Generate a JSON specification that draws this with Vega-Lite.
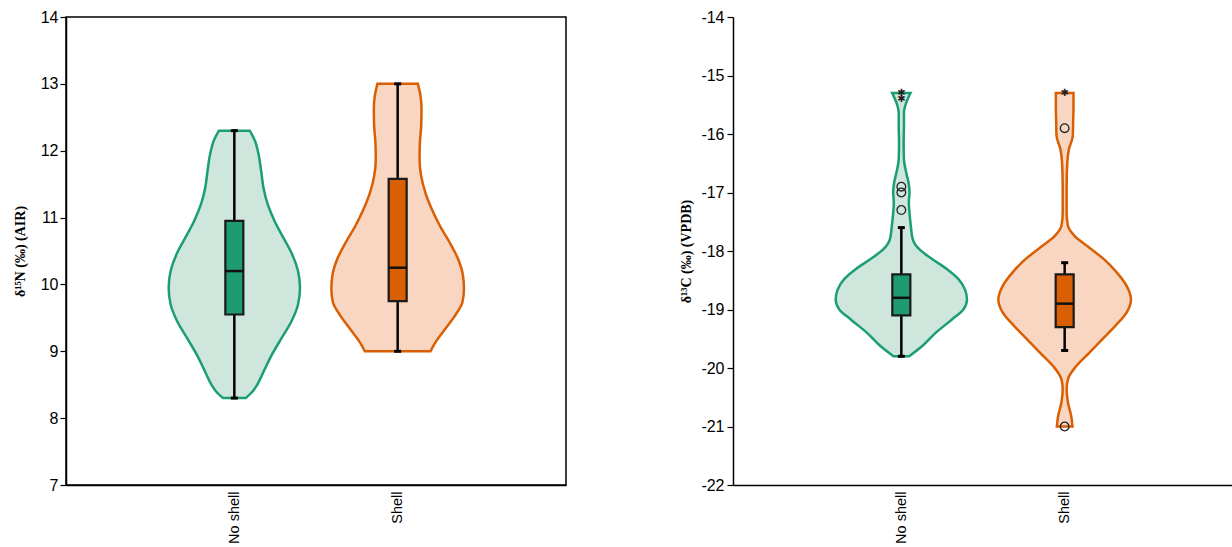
{
  "$schema": "https://vega.github.io/schema/vega-lite/v6.json",
  "padding": {"left": 12, "top": 8, "right": 0, "bottom": 0},
  "background": "white",
  "config": {
    "font": "Liberation Sans",
    "view": {"stroke": null},
    "axis": {
      "labelFont": "Liberation Sans", "labelFontSize": 16, "labelColor": "black",
      "domainColor": "black", "tickColor": "black", "grid": false,
      "titleFont": "Liberation Serif", "titleFontWeight": "bold", "titleFontSize": 14, "titleColor": "black"
    }
  },
  "datasets": {
    "violinN": [
      {"g": "No shell", "y": 12.3, "lo": 0.906, "hi": 1.094},
      {"g": "No shell", "y": 12.15, "lo": 0.874, "hi": 1.126},
      {"g": "No shell", "y": 11.95, "lo": 0.852, "hi": 1.148},
      {"g": "No shell", "y": 11.7, "lo": 0.836, "hi": 1.164},
      {"g": "No shell", "y": 11.45, "lo": 0.822, "hi": 1.178},
      {"g": "No shell", "y": 11.2, "lo": 0.796, "hi": 1.204},
      {"g": "No shell", "y": 10.95, "lo": 0.754, "hi": 1.246},
      {"g": "No shell", "y": 10.7, "lo": 0.7, "hi": 1.3},
      {"g": "No shell", "y": 10.45, "lo": 0.646, "hi": 1.354},
      {"g": "No shell", "y": 10.2, "lo": 0.61, "hi": 1.39},
      {"g": "No shell", "y": 9.95, "lo": 0.598, "hi": 1.402},
      {"g": "No shell", "y": 9.7, "lo": 0.61, "hi": 1.39},
      {"g": "No shell", "y": 9.45, "lo": 0.65, "hi": 1.35},
      {"g": "No shell", "y": 9.2, "lo": 0.71, "hi": 1.29},
      {"g": "No shell", "y": 8.95, "lo": 0.77, "hi": 1.23},
      {"g": "No shell", "y": 8.7, "lo": 0.82, "hi": 1.18},
      {"g": "No shell", "y": 8.5, "lo": 0.86, "hi": 1.14},
      {"g": "No shell", "y": 8.38, "lo": 0.895, "hi": 1.105},
      {"g": "No shell", "y": 8.3, "lo": 0.931, "hi": 1.069},
      {"g": "Shell", "y": 13.0, "lo": 1.876, "hi": 2.124},
      {"g": "Shell", "y": 12.82, "lo": 1.86, "hi": 2.14},
      {"g": "Shell", "y": 12.62, "lo": 1.854, "hi": 2.146},
      {"g": "Shell", "y": 12.37, "lo": 1.856, "hi": 2.144},
      {"g": "Shell", "y": 12.12, "lo": 1.864, "hi": 2.136},
      {"g": "Shell", "y": 11.87, "lo": 1.866, "hi": 2.134},
      {"g": "Shell", "y": 11.62, "lo": 1.856, "hi": 2.144},
      {"g": "Shell", "y": 11.37, "lo": 1.83, "hi": 2.17},
      {"g": "Shell", "y": 11.12, "lo": 1.79, "hi": 2.21},
      {"g": "Shell", "y": 10.87, "lo": 1.74, "hi": 2.26},
      {"g": "Shell", "y": 10.62, "lo": 1.68, "hi": 2.32},
      {"g": "Shell", "y": 10.38, "lo": 1.63, "hi": 2.37},
      {"g": "Shell", "y": 10.13, "lo": 1.6, "hi": 2.4},
      {"g": "Shell", "y": 9.93, "lo": 1.594, "hi": 2.406},
      {"g": "Shell", "y": 9.73, "lo": 1.604, "hi": 2.396},
      {"g": "Shell", "y": 9.53, "lo": 1.65, "hi": 2.35},
      {"g": "Shell", "y": 9.33, "lo": 1.71, "hi": 2.29},
      {"g": "Shell", "y": 9.13, "lo": 1.77, "hi": 2.23},
      {"g": "Shell", "y": 9.0, "lo": 1.799, "hi": 2.201}
    ],
    "violinC": [
      {"g": "No shell", "y": -15.3, "lo": 0.944, "hi": 1.056},
      {"g": "No shell", "y": -15.465, "lo": 0.97, "hi": 1.03},
      {"g": "No shell", "y": -15.64, "lo": 0.984, "hi": 1.016},
      {"g": "No shell", "y": -15.86, "lo": 0.984, "hi": 1.016},
      {"g": "No shell", "y": -16.15, "lo": 0.986, "hi": 1.014},
      {"g": "No shell", "y": -16.43, "lo": 0.984, "hi": 1.016},
      {"g": "No shell", "y": -16.66, "lo": 0.97, "hi": 1.03},
      {"g": "No shell", "y": -16.83, "lo": 0.956, "hi": 1.044},
      {"g": "No shell", "y": -17.0, "lo": 0.95, "hi": 1.05},
      {"g": "No shell", "y": -17.17, "lo": 0.954, "hi": 1.046},
      {"g": "No shell", "y": -17.35, "lo": 0.95, "hi": 1.05},
      {"g": "No shell", "y": -17.57, "lo": 0.942, "hi": 1.058},
      {"g": "No shell", "y": -17.8, "lo": 0.93, "hi": 1.07},
      {"g": "No shell", "y": -17.97, "lo": 0.89, "hi": 1.11},
      {"g": "No shell", "y": -18.14, "lo": 0.81, "hi": 1.19},
      {"g": "No shell", "y": -18.31, "lo": 0.72, "hi": 1.28},
      {"g": "No shell", "y": -18.48, "lo": 0.65, "hi": 1.35},
      {"g": "No shell", "y": -18.66, "lo": 0.61, "hi": 1.39},
      {"g": "No shell", "y": -18.83, "lo": 0.598, "hi": 1.402},
      {"g": "No shell", "y": -19.0, "lo": 0.62, "hi": 1.38},
      {"g": "No shell", "y": -19.17, "lo": 0.69, "hi": 1.31},
      {"g": "No shell", "y": -19.4, "lo": 0.79, "hi": 1.21},
      {"g": "No shell", "y": -19.62, "lo": 0.87, "hi": 1.13},
      {"g": "No shell", "y": -19.8, "lo": 0.952, "hi": 1.048},
      {"g": "Shell", "y": -15.3, "lo": 1.946, "hi": 2.054},
      {"g": "Shell", "y": -15.52, "lo": 1.946, "hi": 2.054},
      {"g": "Shell", "y": -15.8, "lo": 1.948, "hi": 2.052},
      {"g": "Shell", "y": -16.03, "lo": 1.95, "hi": 2.05},
      {"g": "Shell", "y": -16.26, "lo": 1.974, "hi": 2.026},
      {"g": "Shell", "y": -16.49, "lo": 1.984, "hi": 2.016},
      {"g": "Shell", "y": -16.89, "lo": 1.988, "hi": 2.012},
      {"g": "Shell", "y": -17.35, "lo": 1.988, "hi": 2.012},
      {"g": "Shell", "y": -17.57, "lo": 1.98, "hi": 2.02},
      {"g": "Shell", "y": -17.74, "lo": 1.94, "hi": 2.06},
      {"g": "Shell", "y": -17.92, "lo": 1.86, "hi": 2.14},
      {"g": "Shell", "y": -18.14, "lo": 1.76, "hi": 2.24},
      {"g": "Shell", "y": -18.37, "lo": 1.68, "hi": 2.32},
      {"g": "Shell", "y": -18.6, "lo": 1.62, "hi": 2.38},
      {"g": "Shell", "y": -18.83, "lo": 1.594, "hi": 2.406},
      {"g": "Shell", "y": -19.05, "lo": 1.62, "hi": 2.38},
      {"g": "Shell", "y": -19.28, "lo": 1.69, "hi": 2.31},
      {"g": "Shell", "y": -19.51, "lo": 1.77, "hi": 2.23},
      {"g": "Shell", "y": -19.74, "lo": 1.85, "hi": 2.15},
      {"g": "Shell", "y": -19.97, "lo": 1.93, "hi": 2.07},
      {"g": "Shell", "y": -20.19, "lo": 1.98, "hi": 2.02},
      {"g": "Shell", "y": -20.36, "lo": 1.988, "hi": 2.012},
      {"g": "Shell", "y": -20.59, "lo": 1.98, "hi": 2.02},
      {"g": "Shell", "y": -20.82, "lo": 1.96, "hi": 2.04},
      {"g": "Shell", "y": -21.0, "lo": 1.952, "hi": 2.048}
    ],
    "boxN": [
      {"g": "No shell", "c": 1, "wlo": 8.3, "q1": 9.55, "med": 10.2, "q3": 10.95, "whi": 12.3},
      {"g": "Shell", "c": 2, "wlo": 9.0, "q1": 9.75, "med": 10.25, "q3": 11.58, "whi": 13.0}
    ],
    "boxC": [
      {"g": "No shell", "c": 1, "wlo": -19.8, "q1": -19.1, "med": -18.8, "q3": -18.4, "whi": -17.6},
      {"g": "Shell", "c": 2, "wlo": -19.7, "q1": -19.3, "med": -18.9, "q3": -18.4, "whi": -18.2}
    ],
    "outC": [
      {"g": "No shell", "c": 1, "y": -16.9, "kind": "out"},
      {"g": "No shell", "c": 1, "y": -17.0, "kind": "out"},
      {"g": "No shell", "c": 1, "y": -17.3, "kind": "out"},
      {"g": "No shell", "c": 1, "y": -15.3, "kind": "extreme"},
      {"g": "No shell", "c": 1, "y": -15.4, "kind": "extreme"},
      {"g": "Shell", "c": 2, "y": -15.9, "kind": "out"},
      {"g": "Shell", "c": 2, "y": -21.0, "kind": "out"},
      {"g": "Shell", "c": 2, "y": -15.3, "kind": "extreme"}
    ]
  },
  "spacing": 112,
  "hconcat": [
    {
      "width": 500,
      "height": 468,
      "view": {"stroke": "black", "strokeWidth": 1.5},
      "encoding": {
        "x": {"type": "quantitative", "scale": {"domain": [0, 3], "nice": false, "zero": false},
          "axis": {"values": [1, 2], "labelExpr": "datum.value == 1 ? 'No shell' : 'Shell'", "ticks": false, "labelAngle": -90, "labelAlign": "right", "labelBaseline": "middle", "labelPadding": 6, "title": null, "domainWidth": 1.5, "labelFontSize": 14.5}},
        "y": {"type": "quantitative", "scale": {"domain": [7, 14], "nice": false, "zero": false},
          "axis": {"values": [7, 8, 9, 10, 11, 12, 13, 14], "labelExpr": "toString(datum.value)", "tickSize": 6, "tickWidth": 1.2, "labelPadding": 2, "minExtent": 30, "maxExtent": 30, "titlePadding": 9, "domainWidth": 1.5, "title": "δ¹⁵N (‰) (AIR)"}}
      },
      "layer": [
        {
          "data": {"name": "violinN"},
          "mark": {"type": "area", "orient": "horizontal", "interpolate": "monotone", "strokeWidth": 2.5},
          "encoding": {
            "y": {"field": "y"},
            "x": {"field": "lo"},
            "x2": {"field": "hi"},
            "fill": {"field": "g", "type": "nominal", "scale": {"domain": ["No shell", "Shell"], "range": ["#cfe6dc", "#f9d6c2"]}, "legend": null},
            "stroke": {"field": "g", "type": "nominal", "scale": {"domain": ["No shell", "Shell"], "range": ["#1b9e77", "#d95f02"]}, "legend": null}
          }
        },
        {
          "data": {"name": "boxN"},
          "mark": {"type": "rule", "color": "black", "strokeWidth": 2.5},
          "encoding": {"x": {"field": "c"}, "y": {"field": "wlo"}, "y2": {"field": "whi"}}
        },
        {
          "data": {"name": "boxN"},
          "mark": {"type": "tick", "orient": "horizontal", "color": "black", "size": 7, "thickness": 3, "opacity": 1},
          "encoding": {"x": {"field": "c"}, "y": {"field": "wlo"}}
        },
        {
          "data": {"name": "boxN"},
          "mark": {"type": "tick", "orient": "horizontal", "color": "black", "size": 7, "thickness": 3, "opacity": 1},
          "encoding": {"x": {"field": "c"}, "y": {"field": "whi"}}
        },
        {
          "data": {"name": "boxN"},
          "mark": {"type": "bar", "size": 18, "stroke": "#1a1a1a", "strokeWidth": 2.2, "opacity": 1},
          "encoding": {
            "x": {"field": "c"}, "y": {"field": "q1"}, "y2": {"field": "q3"},
            "fill": {"field": "g", "type": "nominal", "scale": {"domain": ["No shell", "Shell"], "range": ["#1f9b72", "#d95f02"]}, "legend": null}
          }
        },
        {
          "data": {"name": "boxN"},
          "mark": {"type": "tick", "orient": "horizontal", "color": "#111", "size": 18, "thickness": 2.5, "opacity": 1},
          "encoding": {"x": {"field": "c"}, "y": {"field": "med"}}
        }
      ],
      "resolve": {"scale": {"fill": "independent"}}
    },
    {
      "width": 500,
      "height": 468,
      "encoding": {
        "x": {"type": "quantitative", "scale": {"domain": [0, 3], "nice": false, "zero": false},
          "axis": {"values": [1, 2], "labelExpr": "datum.value == 1 ? 'No shell' : 'Shell'", "ticks": false, "labelAngle": -90, "labelAlign": "right", "labelBaseline": "middle", "labelPadding": 6, "title": null, "domainWidth": 1.5, "labelFontSize": 14.5}},
        "y": {"type": "quantitative", "scale": {"domain": [-22, -14], "nice": false, "zero": false},
          "axis": {"values": [-22, -21, -20, -19, -18, -17, -16, -15, -14], "labelExpr": "toString(datum.value)", "tickSize": 6, "tickWidth": 1.2, "labelPadding": 3, "minExtent": 30, "maxExtent": 30, "titlePadding": 10, "domainWidth": 1.5, "title": "δ¹³C (‰) (VPDB)"}}
      },
      "layer": [
        {
          "mark": {"type": "rule", "color": "black", "strokeWidth": 1.5},
          "encoding": {"y": {"datum": -14}}
        },
        {
          "data": {"name": "violinC"},
          "mark": {"type": "area", "orient": "horizontal", "interpolate": "monotone", "strokeWidth": 2.5},
          "encoding": {
            "y": {"field": "y"},
            "x": {"field": "lo"},
            "x2": {"field": "hi"},
            "fill": {"field": "g", "type": "nominal", "scale": {"domain": ["No shell", "Shell"], "range": ["#cfe6dc", "#f9d6c2"]}, "legend": null},
            "stroke": {"field": "g", "type": "nominal", "scale": {"domain": ["No shell", "Shell"], "range": ["#1b9e77", "#d95f02"]}, "legend": null}
          }
        },
        {
          "data": {"name": "boxC"},
          "mark": {"type": "rule", "color": "black", "strokeWidth": 2.5},
          "encoding": {"x": {"field": "c"}, "y": {"field": "wlo"}, "y2": {"field": "whi"}}
        },
        {
          "data": {"name": "boxC"},
          "mark": {"type": "tick", "orient": "horizontal", "color": "black", "size": 7, "thickness": 3, "opacity": 1},
          "encoding": {"x": {"field": "c"}, "y": {"field": "wlo"}}
        },
        {
          "data": {"name": "boxC"},
          "mark": {"type": "tick", "orient": "horizontal", "color": "black", "size": 7, "thickness": 3, "opacity": 1},
          "encoding": {"x": {"field": "c"}, "y": {"field": "whi"}}
        },
        {
          "data": {"name": "boxC"},
          "mark": {"type": "bar", "size": 18, "stroke": "#1a1a1a", "strokeWidth": 2.2, "opacity": 1},
          "encoding": {
            "x": {"field": "c"}, "y": {"field": "q1"}, "y2": {"field": "q3"},
            "fill": {"field": "g", "type": "nominal", "scale": {"domain": ["No shell", "Shell"], "range": ["#1f9b72", "#d95f02"]}, "legend": null}
          }
        },
        {
          "data": {"name": "boxC"},
          "mark": {"type": "tick", "orient": "horizontal", "color": "#111", "size": 18, "thickness": 2.5, "opacity": 1},
          "encoding": {"x": {"field": "c"}, "y": {"field": "med"}}
        },
        {
          "data": {"name": "outC"},
          "transform": [{"filter": "datum.kind == 'out'"}],
          "mark": {"type": "point", "shape": "circle", "filled": false, "size": 75, "stroke": "#222", "strokeWidth": 1.3, "opacity": 1},
          "encoding": {"x": {"field": "c"}, "y": {"field": "y"}}
        },
        {
          "data": {"name": "outC"},
          "transform": [{"filter": "datum.kind == 'extreme'"}],
          "mark": {"type": "text", "text": "✱", "font": "DejaVu Sans", "fontSize": 10, "color": "#222", "baseline": "middle", "align": "center"},
          "encoding": {"x": {"field": "c"}, "y": {"field": "y"}}
        }
      ],
      "resolve": {"scale": {"fill": "independent"}}
    }
  ]
}
